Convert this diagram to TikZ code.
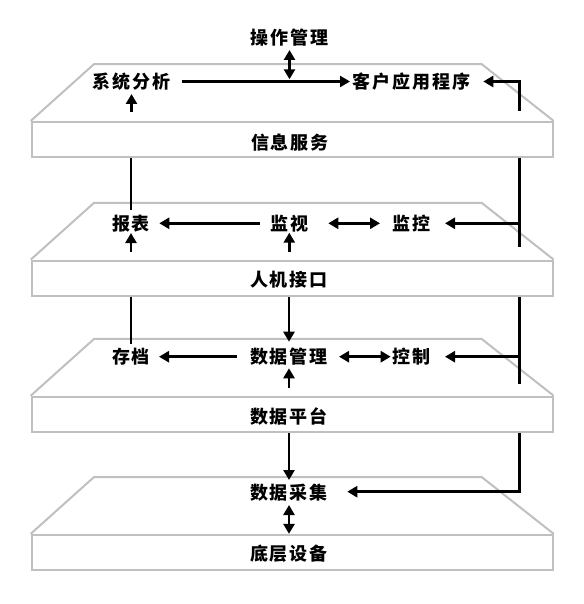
\documentclass[tikz,border=0pt]{standalone}
\usepackage{fontspec}
\newfontfamily\cjk{Noto Sans CJK SC}[LetterSpace=11]
\usetikzlibrary{arrows.meta,calc}
\definecolor{layergray}{RGB}{192,192,192}
\tikzset{
  >={Triangle[length=10pt,width=11pt]},
  lbl/.style={font=\cjk\bfseries\fontsize{18pt}{20pt}\selectfont, inner sep=0pt, text=black},
  layerbox/.style={draw=layergray, line width=2pt, minimum width=521pt, minimum height=35.5pt, inner sep=0pt},
  layertop/.style={draw=layergray, line width=2pt, line join=miter},
  ln/.style={line width=2.6pt, draw=black, line join=miter},
  arr/.style={ln, ->},
  dbl/.style={ln, <->},
}
\begin{document}
\begin{tikzpicture}[x=1pt,y=-1pt]
\path[use as bounding box, fill=white] (0,0) rectangle (583,604);
% layers
\foreach \n/\cy in {1/139.7, 2/278.4, 3/414.5, 4/552.6} {
  \node[layerbox] (R\n) at (292.2,\cy) {};
  \draw[layertop] (R\n.north west) -- ++(63.3,-56.8) -- ++(387.7,0) -- (R\n.north east);
}
% labels
\node[lbl] (czgl) at (289.5,37.5) {操作管理};
\node[lbl] (xtfx) at (131.5,81.5) {系统分析};
\node[lbl] (khyy) at (411.7,81.5) {客户应用程序};
\node[lbl] (xxfw) at (290,142.5) {信息服务};
\node[lbl] (bb) at (131,223.3) {报表};
\node[lbl] (jsh) at (289.3,223.3) {监视};
\node[lbl] (jk) at (411.7,223.3) {监控};
\node[lbl] (rjjk) at (289,279.5) {人机接口};
\node[lbl] (cd) at (131,356.7) {存档};
\node[lbl] (sjgl) at (289,356.7) {数据管理};
\node[lbl] (kz) at (411.7,356.7) {控制};
\node[lbl] (sjpt) at (289,416) {数据平台};
\node[lbl] (sjcj) at (289,493) {数据采集};
\node[lbl] (dcsb) at (289,553.5) {底层设备};
% trunk coordinate on the right
\coordinate (c1) at ($(R1.north east)+(-34.4,-10.2)$);
% layer 1
\draw[dbl] ($(czgl)+(0,12.5)$) -- ($(czgl |- xtfx)+(0,-2.2)$);
\draw[arr] ($(xtfx)+(50.2,0)$) -- ($(khyy)+(-61.7,0)$);
\draw[arr] ($(xtfx |- R1.north)+(0,-9.2)$) -- ($(xtfx)+(0,12.5)$);
\draw[arr] (c1) |- ($(khyy)+(71.6,0)$);
% between layer 1 and 2
\draw[ln] (bb |- R1.south) -- ($(bb)+(0,-13.3)$);
\draw[ln] (c1 |- R1.south) -- ($(c1 |- jk)+(0,24)$);
% layer 2
\draw[arr] (c1 |- jk) -- ($(jk)+(33.3,0)$);
\draw[arr] ($(jsh)+(-29.3,0)$) -- ($(bb)+(28.3,0)$);
\draw[dbl] ($(jsh)+(39,0)$) -- ($(jk)+(-31.7,0)$);
\draw[arr] ($(bb |- R2.north)+(0,-8)$) -- ($(bb)+(0,9.7)$);
\draw[arr] ($(jsh |- R2.north)+(0,-8)$) -- ($(jsh)+(0,9.4)$);
% between layer 2 and 3
\draw[ln] (cd |- R2.south) -- ($(cd)+(0,-12.7)$);
\draw[arr] (sjgl |- R2.south) -- ($(sjgl)+(0,-15)$);
\draw[ln] (c1 |- R2.south) -- ($(c1 |- kz)+(0,27.3)$);
% layer 3
\draw[arr] (c1 |- kz) -- ($(kz)+(33.3,0)$);
\draw[arr] ($(sjgl)+(-52.3,0)$) -- ($(cd)+(28,0)$);
\draw[dbl] ($(sjgl)+(50,0)$) -- ($(kz)+(-21,0)$);
\draw[arr] ($(sjgl |- R3.north)+(0,-8.2)$) -- ($(sjgl)+(0,11.6)$);
% between layer 3 and 4
\draw[arr] (sjcj |- R3.south) -- ($(sjcj)+(0,-13)$);
\draw[arr] (c1 |- R3.south) |- ($(sjcj)+(58.3,-1.3)$);
% layer 4
\draw[dbl] ($(sjcj)+(0,12)$) -- (sjcj |- R4.north);
\end{tikzpicture}
\end{document}
